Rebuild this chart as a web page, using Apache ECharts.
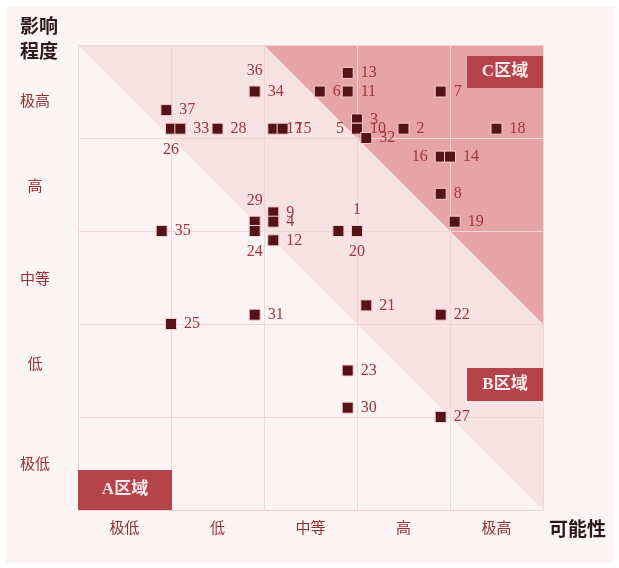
<!DOCTYPE html>
<html>
<head>
<meta charset="utf-8">
<script src="https://cdn.jsdelivr.net/npm/echarts@6/dist/echarts.min.js"></script>
<style>html,body{margin:0;padding:0;background:#fff}#c{width:619px;height:568px}</style>
</head>
<body>
<div id="c"></div>
<script>
// ---- data ----
var levelLabels = ['极低', '低', '中等', '高', '极高'];
var yTickPositions = [0.48, 1.56, 2.47, 3.47, 4.39];
var pointNames = ['13','34','36','6','11','7','37','26','33','28','17','15','3','5','10','32','2','18','16','14','8','19','29','24','9','4','12','','1','20','35','25','31','21','22','23','30','27'];
var possibility = [2.9,1.9,1.9,2.6,2.9,3.9,0.95,1.0,1.1,1.5,2.1,2.2,3.0,3.0,3.0,3.1,3.5,4.5,3.9,4.0,3.9,4.05,1.9,1.9,2.1,2.1,2.1,2.8,3.0,3.0,0.9,1.0,1.9,3.1,3.9,2.9,2.9,3.9];
var impact =      [4.7,4.5,4.5,4.5,4.5,4.5,4.3,4.1,4.1,4.1,4.1,4.1,4.2,4.1,4.1,4.0,4.1,4.1,3.8,3.8,3.4,3.1,3.1,3.0,3.2,3.1,2.9,3.0,3.0,3.0,3.0,2.0,2.1,2.2,2.1,1.5,1.1,1.0];
var labelPlace = {'36':['top',[-8,-4]], '26':['bottom',[0,4]], '29':['top',[-2,-2]], '24':['bottom',[-18,2]],
                  '5':['left',[0,5]], '16':['left',[-6,3]], '1':['top',[11,-2]], '20':['bottom',[0,2]]};
var zoneB = [[0,5],[2,5],[5,2],[5,0]];
var zoneC = [[2,5],[5,5],[5,2]];

var chart = echarts.init(document.getElementById('c'), null, {renderer:'canvas'});
var serif = '"Liberation Serif", "Noto Sans CJK SC", serif';
var labelColor = '#a3343b';

var points = pointNames.map(function(n, i){
  var item = {name: n, value: [possibility[i], impact[i]]};
  var lp = labelPlace[n];
  if (lp) item.label = {position: lp[0], offset: lp[1]};
  return item;
});

var zones = [zoneB, zoneC];
var zoneColors = ['#f7e3e4', '#e6a4a7'];

function zoneBox(text, x, y, w, h){
  return [
    {type:'rect', left:x, top:y, z:100, shape:{width:w, height:h}, style:{fill:'#b5434a'}},
    {type:'text', x:x + w/2, y:y + h/2, z:101, style:{text:text, align:'center', verticalAlign:'middle', font:'bold 17px ' + serif, fill:'#fbeaea'}}
  ];
}

chart.setOption({
  backgroundColor: '#ffffff',
  animation: false,
  graphic: [
    {type:'rect', left:6, top:7, shape:{width:608, height:556}, style:{fill:'#fbf5f4'}, z:-10},
    {type:'text', left:20, top:13, style:{text:'影响\n程度', font:'bold 19px "Noto Sans CJK SC"', fill:'#2e1a1a', lineHeight:25}},
    {type:'text', left:549, top:519, style:{text:'可能性', font:'bold 19px "Noto Sans CJK SC"', fill:'#2e1a1a'}}
  ].concat(zoneBox('C区域', 467, 56, 76, 32), zoneBox('B区域', 467, 368, 76, 33), zoneBox('A区域', 78, 470, 94, 40)),
  grid: {left:78, right:76, top:45, bottom:58, show:true, backgroundColor:'#fcf4f2', borderWidth:0},
  xAxis: [
    {type:'value', min:0, max:5, interval:1, z:3,
     axisLine:{show:false}, axisTick:{show:false}, axisLabel:{show:false},
     splitLine:{show:true, lineStyle:{color:'#f0d4d6', width:1}}},
    {type:'category', data: levelLabels, position:'bottom', boundaryGap:true,
     axisLine:{show:false}, axisTick:{show:false}, splitLine:{show:false},
     axisLabel:{color:'#9a2e36', fontSize:15, fontFamily:serif, margin:12}}
  ],
  yAxis: [
    {type:'value', min:0, max:5, interval:1, z:3,
     axisLine:{show:false}, axisTick:{show:false}, axisLabel:{show:false},
     splitLine:{show:true, lineStyle:{color:'#f0d4d6', width:1}}},
    {type:'value', min:0, max:5, position:'left',
     axisLine:{show:false}, axisTick:{show:false}, splitLine:{show:false},
     axisLabel:{customValues: yTickPositions, color:'#9a2e36', fontSize:15, fontFamily:serif, margin:43, align:'center',
       formatter:function(v){ var i = yTickPositions.indexOf(v); return i >= 0 ? levelLabels[i] : ''; }}}
  ],
  series: [
    {type:'custom', xAxisIndex:0, yAxisIndex:0, silent:true, z:1,
     data: zones.map(function(z, i){ return [i]; }),
     renderItem: function(params, api){
       var pts = zones[params.dataIndex].map(function(p){ return api.coord(p); });
       return {type:'polygon', shape:{points:pts}, style:{fill: zoneColors[params.dataIndex]}};
     }},
    {type:'scatter', xAxisIndex:0, yAxisIndex:0, z:5,
     symbol:'rect', symbolSize:11,
     itemStyle:{color:'#561317', borderColor:'#f4cdd0', borderWidth:1, opacity:1},
     label:{show:true, position:'right', distance:7, formatter:'{b}', color:labelColor, fontSize:16, fontFamily:serif},
     labelLayout:{hideOverlap:false},
     data: points}
  ]
});
</script>
</body>
</html>
